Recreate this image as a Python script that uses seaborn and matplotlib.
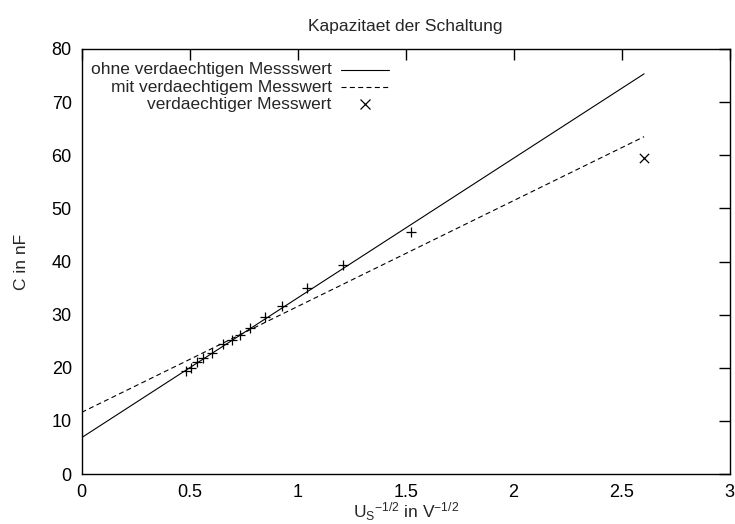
import numpy as np
import pandas as pd
import matplotlib
matplotlib.use("Agg")
import matplotlib.pyplot as plt
import seaborn as sns

# Messwerte: x = U_S^(-1/2) in V^(-1/2), C in nF
x_mess = [0.483, 0.505, 0.533, 0.564, 0.602, 0.656, 0.695, 0.733, 0.780,
          0.849, 0.926, 1.042, 1.209, 1.524]
c_mess = [19.3, 20.0, 21.1, 21.8, 22.7, 24.4, 25.2, 26.2, 27.4,
          29.6, 31.6, 35.0, 39.3, 45.6]

# verdaechtiger Messwert
x_verd = [2.604]
c_verd = [59.5]

# Ausgleichsgeraden C = a + b * x
a_ohne, b_ohne = 6.84, 26.3
a_mit, b_mit = 11.6, 19.93
x_fit = [0.0, 2.604]

legend_labels = ["ohne verdaechtigen Messswert",
                 "mit verdaechtigem Messwert",
                 "verdaechtiger Messwert"]

x_ticks = [0, 0.5, 1, 1.5, 2, 2.5, 3]
x_ticklabels = ["0", "0.5", "1", "1.5", "2", "2.5", "3"]
y_ticks = [0, 10, 20, 30, 40, 50, 60, 70, 80]

sns.set_theme(style="white")
plt.rcParams["font.family"] = ["Liberation Sans", "DejaVu Sans"]
plt.rcParams["mathtext.fontset"] = "custom"
plt.rcParams["mathtext.rm"] = "Liberation Sans"
plt.rcParams["mathtext.it"] = "Liberation Sans"

fig = plt.figure(figsize=(7.35, 5.24), dpi=100)
ax = fig.add_axes([0.111, 0.0954, 0.8817, 0.8111])

fit = pd.DataFrame({
    "x": x_fit + x_fit,
    "C": [a_ohne + b_ohne * v for v in x_fit] + [a_mit + b_mit * v for v in x_fit],
    "Fit": [legend_labels[0]] * 2 + [legend_labels[1]] * 2,
})
sns.lineplot(data=fit[fit["Fit"] == legend_labels[0]], x="x", y="C", ax=ax,
             color="black", linewidth=0.8, legend=False)
sns.lineplot(data=fit[fit["Fit"] == legend_labels[1]], x="x", y="C", ax=ax,
             color="black", linewidth=0.8, linestyle=(0, (4.5, 3)), legend=False)

mess = pd.DataFrame({"x": x_mess, "C": c_mess})
sns.scatterplot(data=mess, x="x", y="C", ax=ax, marker="+", s=55,
                color="black", linewidth=0.9, legend=False)
verd = pd.DataFrame({"x": x_verd, "C": c_verd})
sns.scatterplot(data=verd, x="x", y="C", ax=ax, marker="x", s=45,
                color="black", linewidth=0.9, legend=False)

ax.set_xlim(0, 3)
ax.set_ylim(0, 80)
ax.set_xticks(x_ticks)
ax.set_xticklabels(x_ticklabels)
ax.set_yticks(y_ticks)
ax.tick_params(direction="in", length=8, width=1, top=True, right=True,
               labelsize=13, colors="black", pad=7)
for s in ax.spines.values():
    s.set_color("black")
    s.set_linewidth(1.0)

ax.set_title("Kapazitaet der Schaltung", fontsize=12.5, pad=13)
ax.set_xlabel(r"U$_\mathrm{S}$$^{-1/2}$ in V$^{-1/2}$", fontsize=12.5, labelpad=0)
ax.set_ylabel("C in nF", fontsize=12.5, labelpad=16)

# Legende im gnuplot-Stil: Text rechtsbuendig, Symbol rechts daneben
rows = [0.951, 0.910, 0.870]
tx, l0, l1, mx = 0.386, 0.400, 0.474, 0.437
ax.text(tx, rows[0], legend_labels[0], transform=ax.transAxes, ha="right",
        va="center", fontsize=12.5)
ax.plot([l0, l1], [rows[0]] * 2, transform=ax.transAxes, color="black", lw=0.8)
ax.text(tx, rows[1], legend_labels[1], transform=ax.transAxes, ha="right",
        va="center", fontsize=12.5)
ax.plot([l0, l1], [rows[1]] * 2, transform=ax.transAxes, color="black", lw=0.8,
        linestyle=(0, (4.5, 3)))
ax.text(tx, rows[2], legend_labels[2], transform=ax.transAxes, ha="right",
        va="center", fontsize=12.5)
ax.plot([mx], [rows[2]], transform=ax.transAxes, color="black", marker="x",
        markersize=6.5, mew=0.9, linestyle="none")

fig.savefig("out.png", dpi=100)
